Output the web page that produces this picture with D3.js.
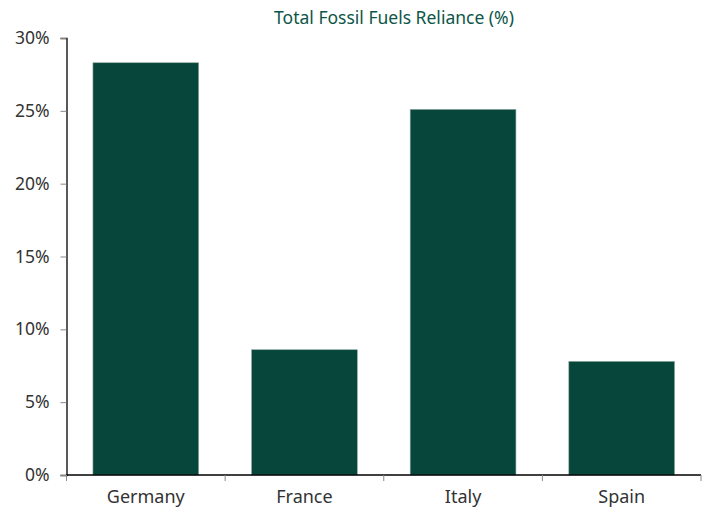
<!DOCTYPE html>
<html>
<head>
<meta charset="utf-8">
<script src="https://cdn.jsdelivr.net/npm/d3@7"></script>
<style>
  body { margin: 0; background: #fff; }
  text { font-family: "Noto Sans", "Open Sans", sans-serif; }
</style>
</head>
<body>
<div id="chart"></div>
<script>
const countries = ["Germany", "France", "Italy", "Spain"];
const reliance = [28.3, 8.6, 25.1, 7.8];
const yTicks = [0, 5, 10, 15, 20, 25, 30];

const width = 708, height = 510;
const margin = { top: 38, right: 7, bottom: 35, left: 66.5 };

const svg = d3.select("#chart")
  .append("svg")
  .attr("width", width)
  .attr("height", height);

const x = d3.scaleBand()
  .domain(countries)
  .range([margin.left, width - margin.right])
  .paddingInner(1 / 3)
  .paddingOuter(1 / 6);

const y = d3.scaleLinear()
  .domain([0, 30])
  .range([height - margin.bottom, margin.top]);

// bars
svg.append("g")
  .selectAll("rect")
  .data(countries)
  .enter()
  .append("rect")
  .attr("x", d => x(d))
  .attr("y", (d, i) => y(reliance[i]))
  .attr("width", x.bandwidth())
  .attr("height", (d, i) => y(0) - y(reliance[i]))
  .attr("fill", "#07463a")
  .attr("stroke", "#8fa9a1")
  .attr("stroke-width", 0.6);

// y axis
const yAxis = svg.append("g")
  .attr("transform", `translate(${margin.left},0)`)
  .call(d3.axisLeft(y).tickValues(yTicks).tickFormat(d => d + "%").tickSize(6).tickPadding(11));
yAxis.select(".domain").attr("stroke", "#000").attr("stroke-width", 1.3);
yAxis.selectAll(".tick line").attr("stroke", "#888");
yAxis.selectAll(".tick text").attr("fill", "#333").style("font-size", "17.5px");

// x axis - ticks at the band boundaries
const bounds = countries.map(d => x(d) - x.step() * x.paddingInner() / 2)
  .concat([width - margin.right]);
const xAxis = svg.append("g")
  .attr("transform", `translate(0,${y(0)})`);
xAxis.append("line")
  .attr("x1", margin.left)
  .attr("x2", width - margin.right)
  .attr("stroke", "#000")
  .attr("stroke-width", 1.3);
xAxis.selectAll(".btick")
  .data(bounds)
  .enter()
  .append("line")
  .attr("x1", d => d)
  .attr("x2", d => d)
  .attr("y1", 0)
  .attr("y2", 6)
  .attr("stroke", "#888");
xAxis.selectAll(".lbl")
  .data(countries)
  .enter()
  .append("text")
  .attr("x", d => x(d) + x.bandwidth() / 2)
  .attr("y", 28)
  .attr("text-anchor", "middle")
  .attr("fill", "#333")
  .style("font-size", "18px")
  .text(d => d);

// title
svg.append("text")
  .attr("x", 394)
  .attr("y", 24)
  .attr("text-anchor", "middle")
  .attr("fill", "#0d5647")
  .style("font-size", "17.5px")
  .text("Total Fossil Fuels Reliance (%)");
</script>
</body>
</html>
